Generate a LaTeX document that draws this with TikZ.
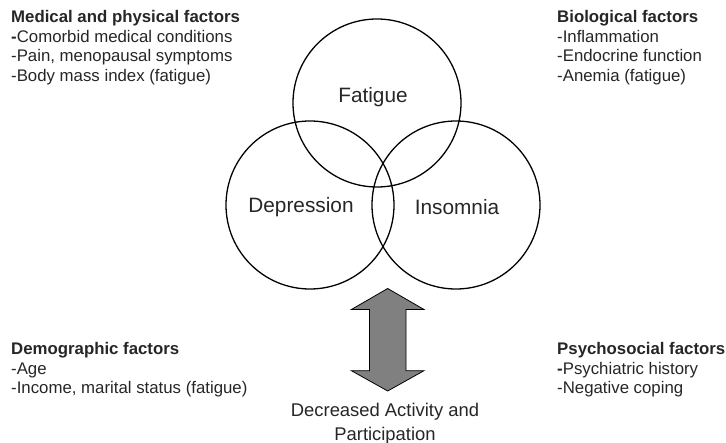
\documentclass[tikz,border=0pt]{standalone}
\usepackage{fontspec}
\setmainfont{Liberation Sans}
\begin{document}
\begin{tikzpicture}[x=1pt,y=-1pt,
  ring/.style={circle,draw=black,line width=1.3pt,minimum size=168pt,inner sep=0pt},
  ringlabel/.style={font=\fontsize{20.8}{24}\selectfont,text=black!85,inner sep=0pt},
  factor/.style={font=\fontsize{16.8}{19.7}\selectfont,text=black!85,align=left,anchor=north west,inner sep=0pt},
  outcome/.style={font=\fontsize{18.4}{24}\selectfont,text=black!85,align=center,inner sep=0pt}]
\useasboundingbox (0,0) rectangle (726,443);

% three overlapping circles
\node[ring] (fat) at (377,103) {};
\node[ring] (dep) at (310,205) {};
\node[ring] (ins) at (456,205) {};
\node[ringlabel] (fatl) at (373,97) {Fatigue};
\node[ringlabel] (depl) at (301,207) {Depression};
\node[ringlabel] (insl) at (457,207) {Insomnia};

% factor lists
\node[factor] (med) at (11,10) {\textbf{Medical and physical factors}\\\textbf{-}Comorbid medical conditions\\-Pain, menopausal symptoms\\-Body mass index (fatigue)};
\node[factor] (bio) at (557,10) {\textbf{Biological factors}\\-Inflammation\\-Endocrine function\\-Anemia (fatigue)};
\node[factor] (dem) at (11,342) {\textbf{Demographic factors}\\-Age\\-Income, marital status (fatigue)};
\node[factor] (psy) at (557,342) {\textbf{Psychosocial factors}\\\textbf{-}Psychiatric history\\-Negative coping};

% two-headed block arrow
\coordinate (arr) at (387.7,340);
\draw[fill=black!50,line width=0.8pt,line join=miter]
  (arr) ++(0,-51.5) -- ++(36.3,21) -- ++(-18,0) -- ++(0,61.2) -- ++(18,0)
  -- ++(-36.3,20.3) -- ++(-36.3,-20.3) -- ++(18,0) -- ++(0,-61.2) -- ++(-18,0) -- cycle;

\node[outcome] (act) at (385,424) {Decreased Activity and\\Participation};
\end{tikzpicture}
\end{document}
